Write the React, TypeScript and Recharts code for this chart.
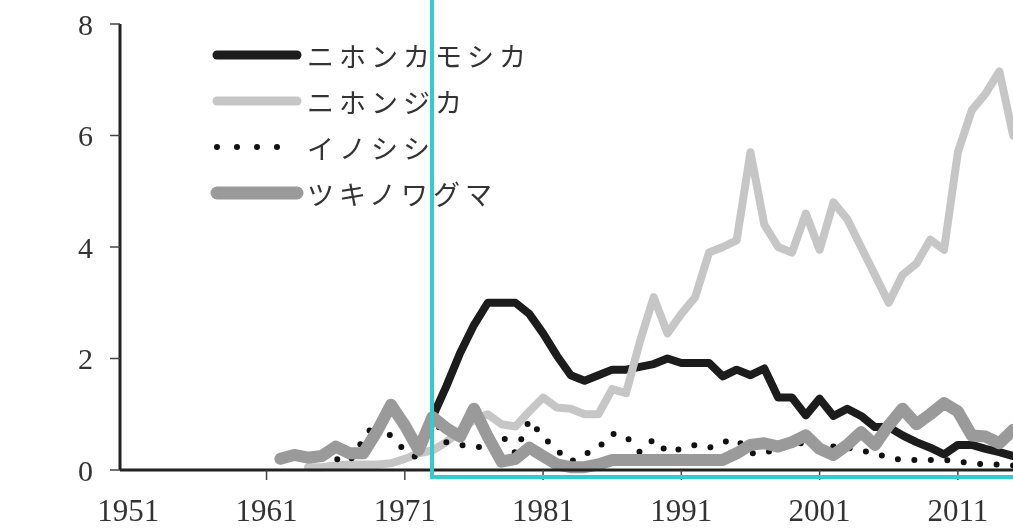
import { LineChart, Line, XAxis, YAxis } from 'recharts';

const YEARS = [
  1962, 1963, 1964, 1965, 1966, 1967, 1968, 1969, 1970, 1971,
  1972, 1973, 1974, 1975, 1976, 1977, 1978, 1979, 1980, 1981,
  1982, 1983, 1984, 1985, 1986, 1987, 1988, 1989, 1990, 1991,
  1992, 1993, 1994, 1995, 1996, 1997, 1998, 1999, 2000, 2001,
  2002, 2003, 2004, 2005, 2006, 2007, 2008, 2009, 2010, 2011,
  2012, 2013, 2014, 2015,
];

// ニホンカモシカ
const KAMOSHIKA = [
  null, null, null, null, null, null, null, null, null, null,
  null, 0.95, 1.5, 2.1, 2.6, 3.0, 3.0, 3.0, 2.8, 2.45,
  2.05, 1.7, 1.6, 1.7, 1.8, 1.8, 1.85, 1.9, 2.0, 1.92,
  1.92, 1.92, 1.68, 1.8, 1.7, 1.82, 1.3, 1.3, 0.98, 1.28,
  0.97, 1.1, 0.97, 0.77, 0.77, 0.62, 0.5, 0.4, 0.28, 0.45,
  0.45, 0.38, 0.32, 0.25,
];

// ニホンジカ
const SHIKA = [
  null, null, 0.05, 0.05, 0.08, 0.1, 0.1, 0.1, 0.12, 0.2,
  0.3, 0.35, 0.5, 0.7, 0.9, 1.0, 0.82, 0.78, 1.05, 1.3,
  1.12, 1.1, 1.0, 1.0, 1.45, 1.38, 2.3, 3.1, 2.45, 2.8,
  3.1, 3.9, 4.0, 4.12, 5.7, 4.4, 4.0, 3.9, 4.6, 3.95,
  4.8, 4.5, 4.0, 3.5, 3.0, 3.5, 3.7, 4.13, 3.95, 5.7,
  6.45, 6.75, 7.15, 6.0,
];

// イノシシ
const INOSHISHI = [
  null, null, null, 0.3, 0.2, 0.15, 0.55, 0.9, 0.6, 0.35,
  0.2, 1.0, 0.5, 0.45, 0.42, 0.4, 0.63, 0.3, 0.9, 0.6,
  0.35, 0.15, 0.28, 0.4, 0.65, 0.6, 0.32, 0.55, 0.32, 0.38,
  0.45, 0.4, 0.5, 0.55, 0.3, 0.3, 0.4, 0.45, 0.5, 0.45,
  0.42, 0.4, 0.35, 0.3, 0.22, 0.18, 0.18, 0.18, 0.18, 0.15,
  0.12, 0.1, 0.1, 0.08,
];

// ツキノワグマ
const KUMA = [
  0.2, 0.27, 0.22, 0.25, 0.42, 0.3, 0.3, 0.7, 1.17, 0.8,
  0.36, 0.95, 0.75, 0.6, 1.1, 0.6, 0.15, 0.2, 0.4, 0.25,
  0.1, 0.05, 0.05, 0.1, 0.18, 0.18, 0.18, 0.18, 0.18, 0.18,
  0.18, 0.18, 0.18, 0.3, 0.45, 0.48, 0.42, 0.5, 0.62, 0.38,
  0.27, 0.45, 0.68, 0.45, 0.8, 1.1, 0.82, 1.0, 1.2, 1.05,
  0.62, 0.6, 0.48, 0.72,
];

const X_TICKS = [1951, 1961, 1971, 1981, 1991, 2001, 2011];
const Y_TICKS = [0, 2, 4, 6, 8];

const SERIES = [
  { key: 'kamoshika', name: 'ニホンカモシカ', color: '#1c1c1c', width: 8, dash: undefined },
  { key: 'shika', name: 'ニホンジカ', color: '#c6c6c6', width: 8, dash: undefined },
  { key: 'inoshishi', name: 'イノシシ', color: '#111111', width: 6, dash: '0 16.5' },
  { key: 'kuma', name: 'ツキノワグマ', color: '#9a9a9a', width: 12, dash: undefined },
];

const data = YEARS.map((year, i) => ({
  year,
  kamoshika: KAMOSHIKA[i],
  shika: SHIKA[i],
  inoshishi: INOSHISHI[i],
  kuma: KUMA[i],
}));

// chart geometry
const CHART_W = 1040;
const CHART_H = 528;
const MARGIN = { top: 24, right: 13, left: 0, bottom: 0 };
const Y_AXIS_W = 120;
const X_AXIS_H = 58;
const X_DOMAIN: [number, number] = [1950.4, 2016];
const Y_DOMAIN: [number, number] = [0, 8];

// highlighted window (cyan frame), in data units
const FRAME_FROM_YEAR = 1973.0;
const FRAME_BOTTOM_VALUE = -0.125;

const PLOT_W = CHART_W - Y_AXIS_W - MARGIN.right - MARGIN.left;
const PLOT_H = CHART_H - MARGIN.top - MARGIN.bottom - X_AXIS_H;
const frameLeft =
  MARGIN.left + Y_AXIS_W + ((FRAME_FROM_YEAR - X_DOMAIN[0]) / (X_DOMAIN[1] - X_DOMAIN[0])) * PLOT_W;
const frameBottom =
  MARGIN.top + ((Y_DOMAIN[1] - FRAME_BOTTOM_VALUE) / (Y_DOMAIN[1] - Y_DOMAIN[0])) * PLOT_H;

const NUM_FONT = '"Liberation Serif", "DejaVu Serif", serif';
const JP_FONT = '"Noto Sans CJK JP", sans-serif';

function YearTick({ x, y, payload }: any) {
  const v = payload.value;
  return (
    <g>
      {v !== 1951 && <line x1={x} y1={y - 10} x2={x} y2={y} stroke="#444" strokeWidth={1.5} />}
      <text x={x} y={y + 41} textAnchor="middle" fontFamily={NUM_FONT} fontSize={31} fill="#333">
        {v}
      </text>
    </g>
  );
}

function SpeciesLegend() {
  return (
    <svg width={340} height={190} style={{ position: 'absolute', left: 205, top: 29 }}>
      {SERIES.map((s, i) => {
        const cy = 26 + i * 46;
        const dash = s.dash ? '0 20' : undefined;
        return (
          <g key={s.key}>
            <line
              x1={12}
              x2={92}
              y1={cy}
              y2={cy}
              stroke={s.color}
              strokeWidth={s.key === 'inoshishi' ? 6 : s.width + 1}
              strokeLinecap="round"
              strokeDasharray={dash}
            />
            <text
              x={102}
              y={cy}
              dominantBaseline="central"
              fontFamily={JP_FONT}
              fontSize={27}
              letterSpacing={5}
              fill="#333"
            >
              {s.name}
            </text>
          </g>
        );
      })}
    </svg>
  );
}

export default function App() {
  return (
    <div style={{ position: 'fixed', left: 0, top: 0, width: 1013, height: 528, overflow: 'hidden' }}>
      <LineChart width={CHART_W} height={CHART_H} data={data} margin={MARGIN}>
        <XAxis
          dataKey="year"
          type="number"
          domain={X_DOMAIN}
          ticks={X_TICKS}
          height={X_AXIS_H}
          tickSize={10}
          tickMargin={0}
          tickLine={false}
          tick={(p: any) => <YearTick {...p} />}
          axisLine={{ stroke: '#222', strokeWidth: 3 }}
          interval={0}
        />
        <YAxis
          domain={Y_DOMAIN}
          ticks={Y_TICKS}
          width={Y_AXIS_W}
          tickSize={10}
          tickMargin={17}
          interval={0}
          axisLine={{ stroke: '#222', strokeWidth: 3 }}
          tickLine={{ stroke: '#444', strokeWidth: 1.5 }}
          tick={{ fontFamily: NUM_FONT, fontSize: 30, fill: '#333' }}
        />
        {SERIES.map((s) => (
          <Line
            key={s.key}
            dataKey={s.key}
            name={s.name}
            type="linear"
            stroke={s.color}
            strokeWidth={s.width}
            strokeDasharray={s.dash}
            strokeLinecap="round"
            strokeLinejoin="round"
            dot={false}
            activeDot={false}
            isAnimationActive={false}
          />
        ))}
      </LineChart>
      <SpeciesLegend />
      <div
        style={{
          position: 'absolute',
          left: frameLeft - 2,
          top: -10,
          width: 1200,
          height: frameBottom + 2 + 10,
          boxSizing: 'border-box',
          border: '4px solid #33cccc',
          pointerEvents: 'none',
        }}
      />
    </div>
  );
}
